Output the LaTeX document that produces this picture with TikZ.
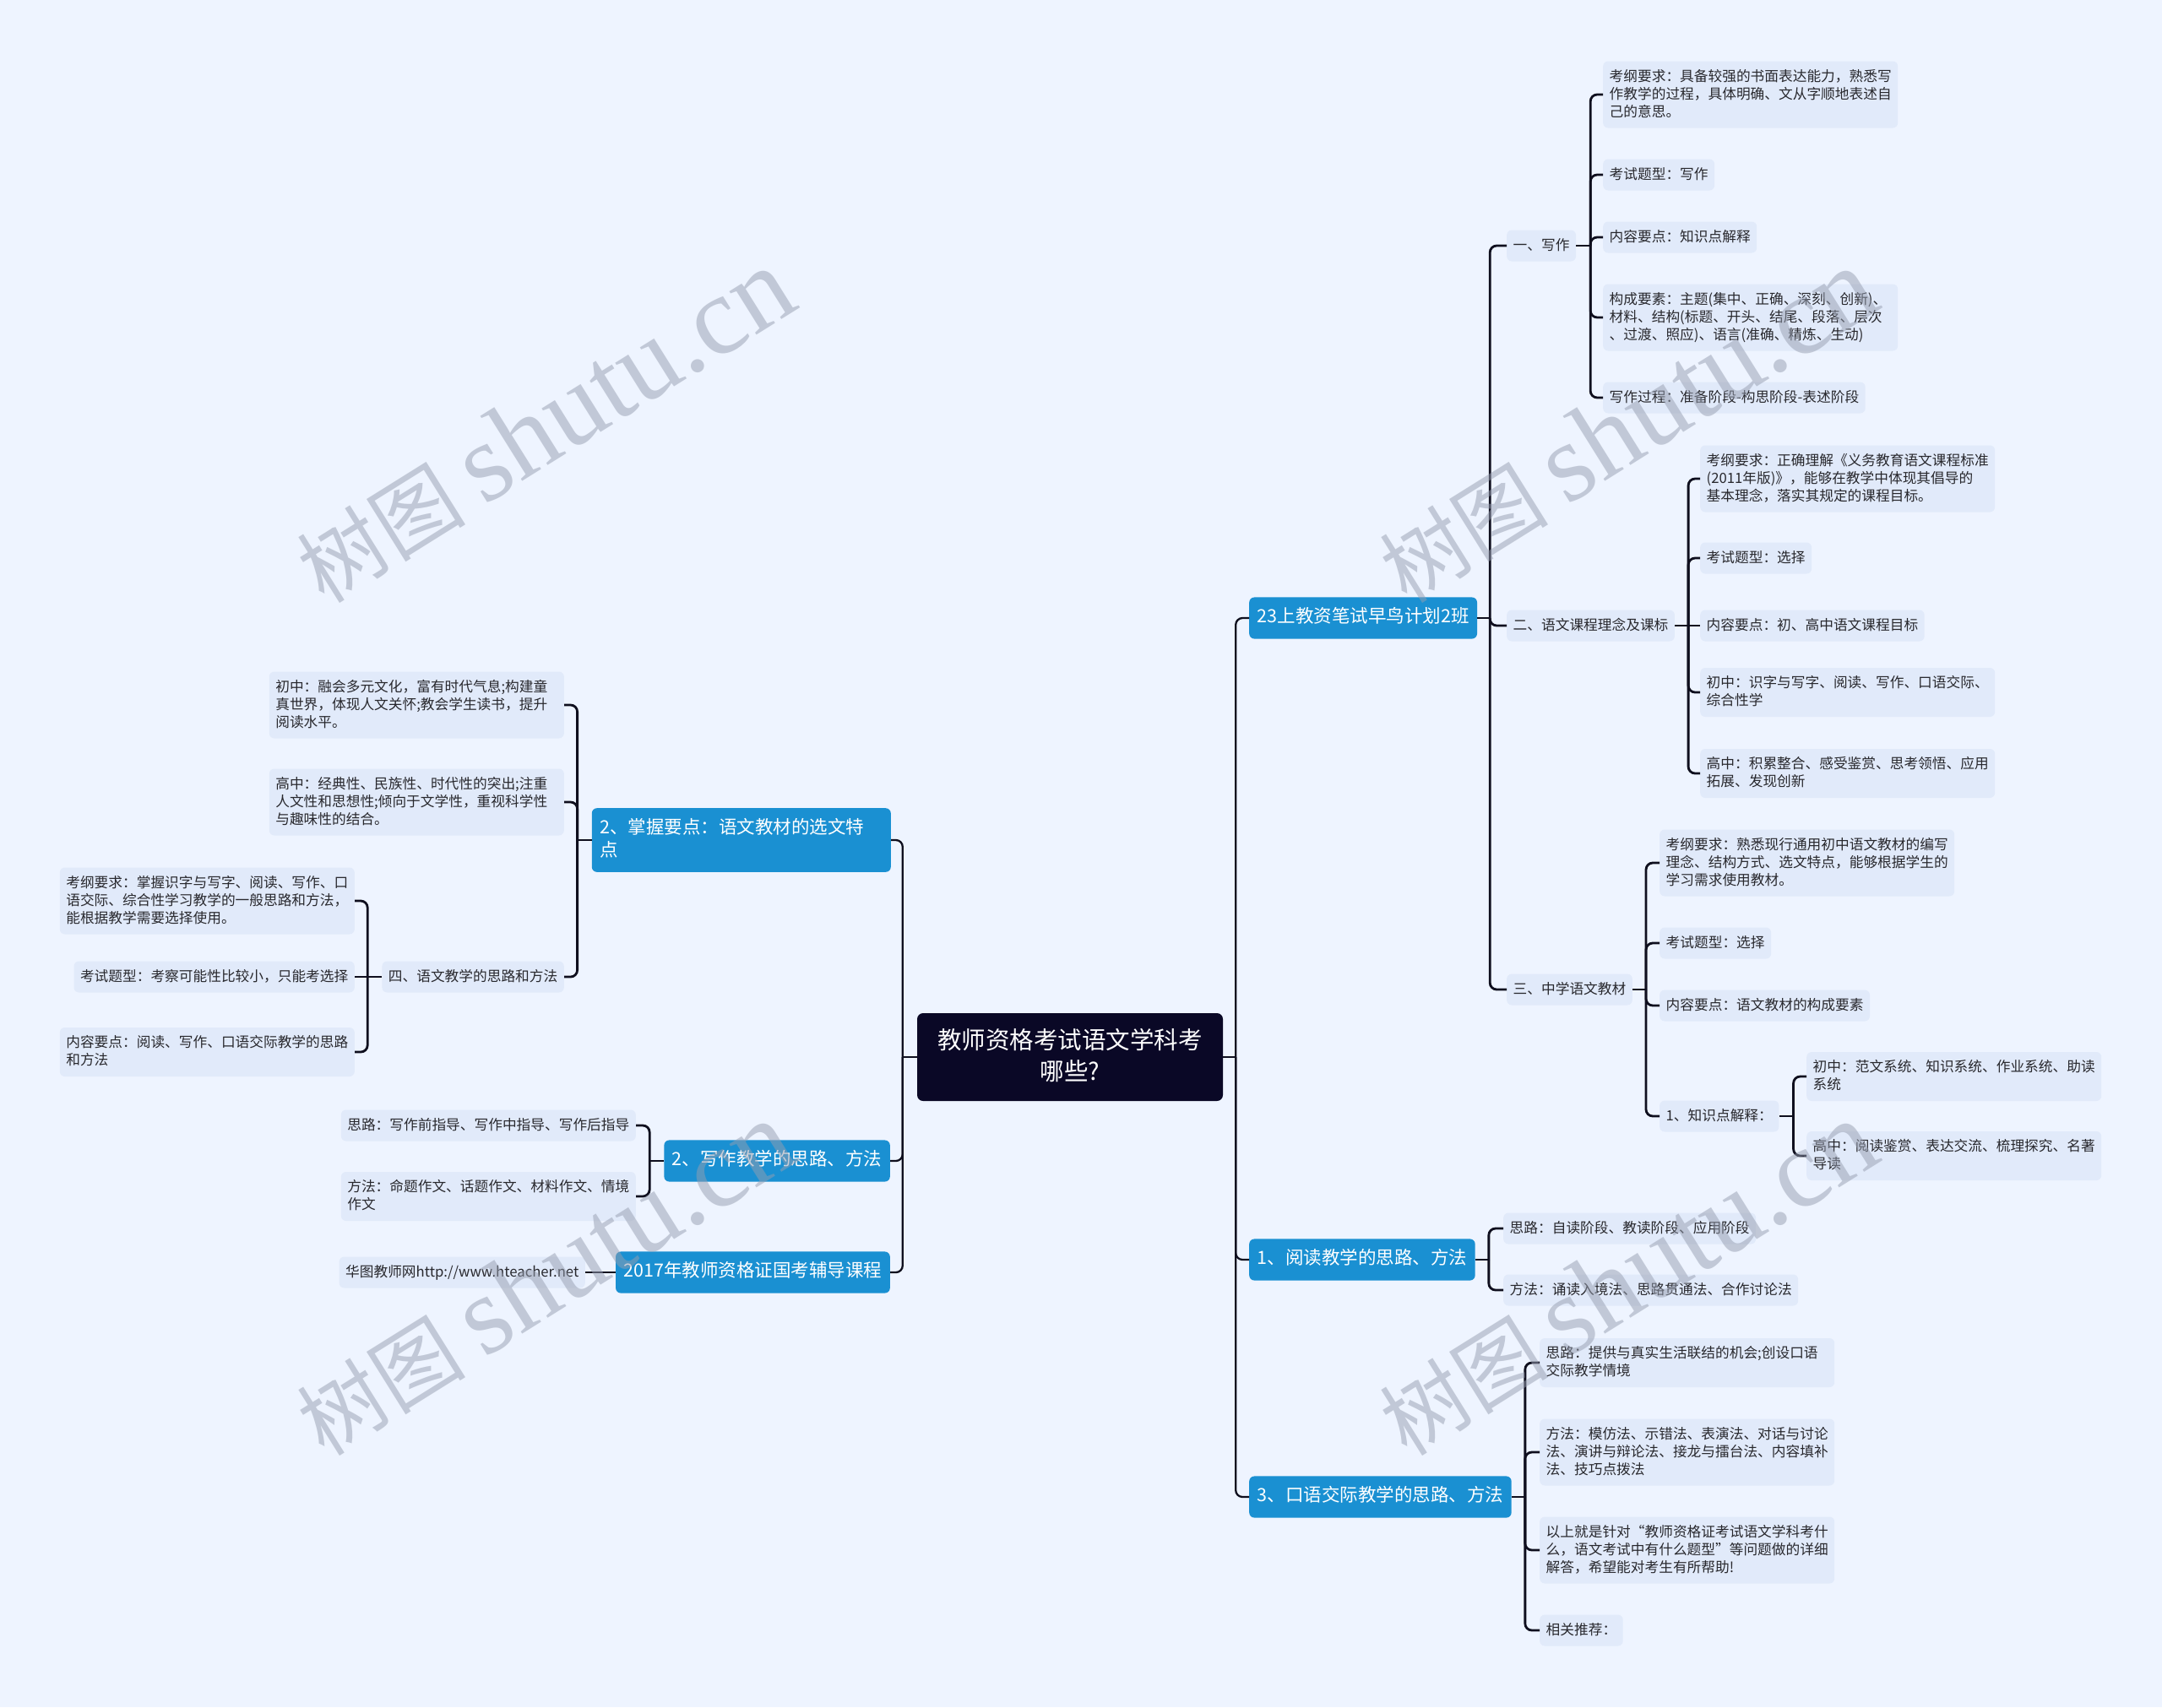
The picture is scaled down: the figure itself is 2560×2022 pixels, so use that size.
\documentclass[tikz,border=0pt]{standalone}
\usepackage{fontspec}
\setmainfont{Noto Sans CJK SC}
\newfontfamily\wmlatin{Liberation Serif}
\usetikzlibrary{calc}
\definecolor{bgc}{RGB}{238,244,255}
\definecolor{leafbg}{RGB}{225,234,250}
\definecolor{bluebg}{RGB}{26,144,210}
\definecolor{rootbg}{RGB}{10,8,38}
\definecolor{linec}{RGB}{15,15,30}
\definecolor{txtc}{RGB}{40,40,45}
\definecolor{wmc}{RGB}{150,158,176}
\newcommand\leaffont{\fontsize{16.7}{21}\selectfont}
\newcommand\bluefont{\fontsize{21.5}{26.5}\selectfont}
\newcommand\rootfont{\fontsize{28.5}{36.7}\selectfont}
\newcommand\wmfont{\fontsize{100}{100}\selectfont}
\newcommand\wmlatinfont{\wmlatin\fontsize{132}{132}\selectfont}
\newcommand\lstr{\rule[-5.5pt]{0pt}{21pt}}
\newcommand\bstr{\rule[-7.3pt]{0pt}{26.5pt}}
\newcommand\rstr{\rule[-9.5pt]{0pt}{36.7pt}}
\tikzset{
  leaf/.style={fill=leafbg, rounded corners=6, inner xsep=7.5, inner ysep=8,
    font=\leaffont, text=txtc, align=left,
    execute at begin node=\lstr, execute at end node=\lstr},
  leafw/.style={leaf, text width=334},
  bluen/.style={fill=bluebg, rounded corners=6, inner xsep=9.5, inner ysep=11.3,
    font=\bluefont, text=white, align=left,
    execute at begin node=\bstr, execute at end node=\bstr},
  rootn/.style={fill=rootbg, rounded corners=7, inner xsep=13, inner ysep=15.3,
    font=\rootfont, text=white, align=center, text width=336,
    execute at begin node=\rstr, execute at end node=\rstr},
  conn/.style={draw=linec, line width=2.8, rounded corners=8},
  conn0/.style={draw=linec, line width=2.3, rounded corners=8},
  wm/.style={rotate=32, text=wmc, opacity=0.5, font=\wmfont, inner sep=0}
}
\begin{document}
\begin{tikzpicture}[x=1pt,y=-1pt]
\fill[bgc] (0,0) rectangle (2560,2022);
\useasboundingbox (0,0) rectangle (2560,2022);

% root
\node[rootn] (root) at (1267,1252) {教师资格考试语文学科考\\哪些?};

% right level 1
\node[bluen, anchor=west] (A) at (1479,732) {23上教资笔试早鸟计划2班};
\node[bluen, anchor=west] (B) at (1479,1492) {1、阅读教学的思路、方法};
\node[bluen, anchor=west] (C) at (1479,1773) {3、口语交际教学的思路、方法};

% A children
\node[leaf, anchor=west] (A1) at (1784,291) {一、写作};
\node[leaf, anchor=west] (A2) at (1784,741) {二、语文课程理念及课标};
\node[leaf, anchor=west] (A3) at (1784,1172) {三、中学语文教材};

\node[leafw, anchor=west] (A1a) at (1898,112) {考纲要求：具备较强的书面表达能力，熟悉写\\作教学的过程，具体明确、文从字顺地表述自\\己的意思。};
\node[leaf, anchor=west] (A1b) at (1898,207) {考试题型：写作};
\node[leaf, anchor=west] (A1c) at (1898,281) {内容要点：知识点解释};
\node[leafw, anchor=west] (A1d) at (1898,376) {构成要素：主题(集中、正确、深刻、创新)、\\材料、结构(标题、开头、结尾、段落、层次\\、过渡、照应)、语言(准确、精炼、生动)};
\node[leaf, anchor=west] (A1e) at (1898,471) {写作过程：准备阶段-构思阶段-表述阶段};

\node[leafw, anchor=west] (A2a) at (2013,567) {考纲要求：正确理解《义务教育语文课程标准\\(2011年版)》，能够在教学中体现其倡导的\\基本理念，落实其规定的课程目标。};
\node[leaf, anchor=west] (A2b) at (2013,661) {考试题型：选择};
\node[leaf, anchor=west] (A2c) at (2013,741) {内容要点：初、高中语文课程目标};
\node[leafw, anchor=west] (A2d) at (2013,820) {初中：识字与写字、阅读、写作、口语交际、\\综合性学};
\node[leafw, anchor=west] (A2e) at (2013,916) {高中：积累整合、感受鉴赏、思考领悟、应用\\拓展、发现创新};

\node[leafw, anchor=west] (A3a) at (1965,1022) {考纲要求：熟悉现行通用初中语文教材的编写\\理念、结构方式、选文特点，能够根据学生的\\学习需求使用教材。};
\node[leaf, anchor=west] (A3b) at (1965,1117) {考试题型：选择};
\node[leaf, anchor=west] (A3c) at (1965,1191) {内容要点：语文教材的构成要素};
\node[leaf, anchor=west] (A3d) at (1965,1322) {1、知识点解释：};
\node[leafw, anchor=west] (A3d1) at (2139,1275) {初中：范文系统、知识系统、作业系统、助读\\系统};
\node[leafw, anchor=west] (A3d2) at (2139,1369) {高中：阅读鉴赏、表达交流、梳理探究、名著\\导读};

% B children
\node[leaf, anchor=west] (B1) at (1780,1455) {思路：自读阶段、教读阶段、应用阶段};
\node[leaf, anchor=west] (B2) at (1780,1528) {方法：诵读入境法、思路贯通法、合作讨论法};

% C children
\node[leafw, anchor=west] (C1) at (1823,1614) {思路：提供与真实生活联结的机会;创设口语\\交际教学情境};
\node[leafw, anchor=west] (C2) at (1823,1720) {方法：模仿法、示错法、表演法、对话与讨论\\法、演讲与辩论法、接龙与擂台法、内容填补\\法、技巧点拨法};
\node[leafw, anchor=west] (C3) at (1823,1836) {以上就是针对“教师资格证考试语文学科考什\\么，语文考试中有什么题型”等问题做的详细\\解答，希望能对考生有所帮助!};
\node[leaf, anchor=west] (C4) at (1823,1931) {相关推荐：};

% left level 1
\node[bluen, text width=335, anchor=east] (L1) at (1055,995) {2、掌握要点：语文教材的选文特\\点};
\node[bluen, anchor=east] (L2) at (1054,1375) {2、写作教学的思路、方法};
\node[bluen, anchor=east] (L3) at (1054,1507) {2017年教师资格证国考辅导课程};

\node[leafw, anchor=east] (L1a) at (668,835) {初中：融会多元文化，富有时代气息;构建童\\真世界，体现人文关怀;教会学生读书，提升\\阅读水平。};
\node[leafw, anchor=east] (L1b) at (668,950) {高中：经典性、民族性、时代性的突出;注重\\人文性和思想性;倾向于文学性，重视科学性\\与趣味性的结合。};
\node[leaf, anchor=east] (L1c) at (668,1157) {四、语文教学的思路和方法};
\node[leafw, anchor=east] (L1c1) at (420,1067) {考纲要求：掌握识字与写字、阅读、写作、口\\语交际、综合性学习教学的一般思路和方法，\\能根据教学需要选择使用。};
\node[leaf, anchor=east] (L1c2) at (420,1157) {考试题型：考察可能性比较小，只能考选择};
\node[leafw, anchor=east] (L1c3) at (420,1246) {内容要点：阅读、写作、口语交际教学的思路\\和方法};

\node[leaf, anchor=east] (L2a) at (753,1333) {思路：写作前指导、写作中指导、写作后指导};
\node[leafw, anchor=east] (L2b) at (753,1417) {方法：命题作文、话题作文、材料作文、情境\\作文};

\node[leaf, anchor=east] (L3a) at (693,1507) {华图教师网http://www.hteacher.net};

% connectors: root
\draw[conn0] (root.east) -- ++(15,0) coordinate (rt);
\foreach \c in {A,B,C} \draw[conn0] (rt) |- (\c.west);
\draw[conn0] (root.west) -- ++(-17,0) coordinate (lt);
\foreach \c in {L1,L2,L3} \draw[conn0] (lt) |- (\c.east);

% A
\draw[conn] (A.east) -- ++(15,0) coordinate (at);
\foreach \c in {A1,A2,A3} \draw[conn] (at) |- (\c.west);
\draw[conn] (A1.east) -- ++(17,0) coordinate (a1t);
\foreach \c in {A1a,A1b,A1c,A1d,A1e} \draw[conn] (a1t) |- (\c.west);
\draw[conn] (A2.east) -- ++(16,0) coordinate (a2t);
\foreach \c in {A2a,A2b,A2d,A2e} \draw[conn] (a2t) |- (\c.west);
\draw[conn] (a2t) -- (A2c.west);
\draw[conn] (A3.east) -- ++(16,0) coordinate (a3t);
\foreach \c in {A3a,A3b,A3c,A3d} \draw[conn] (a3t) |- (\c.west);
\draw[conn] (A3d.east) -- ++(17,0) coordinate (a3dt);
\foreach \c in {A3d1,A3d2} \draw[conn] (a3dt) |- (\c.west);

% B, C
\draw[conn] (B.east) -- ++(16,0) coordinate (bt);
\foreach \c in {B1,B2} \draw[conn] (bt) |- (\c.west);
\draw[conn] (C.east) -- ++(16,0) coordinate (ct);
\foreach \c in {C1,C2,C3,C4} \draw[conn] (ct) |- (\c.west);

% left
\draw[conn] (L1.west) -- ++(-17,0) coordinate (l1t);
\foreach \c in {L1a,L1b,L1c} \draw[conn] (l1t) |- (\c.east);
\draw[conn] (L1c.west) -- ++(-17,0) coordinate (l1ct);
\foreach \c in {L1c1,L1c3} \draw[conn] (l1ct) |- (\c.east);
\draw[conn] (l1ct) -- (L1c2.east);
\draw[conn] (L2.west) -- ++(-17,0) coordinate (l2t);
\foreach \c in {L2a,L2b} \draw[conn] (l2t) |- (\c.east);
\draw[conn] (L3.west) -- (L3a.east);

% watermarks
\node[wm] (wm1) at (645,505) {树图 {\wmlatinfont shutu.cn}};
\node[wm] (wm2) at (1927,505) {树图 {\wmlatinfont shutu.cn}};
\node[wm] (wm3) at (645,1515) {树图 {\wmlatinfont shutu.cn}};
\node[wm] (wm4) at (1927,1515) {树图 {\wmlatinfont shutu.cn}};
\end{tikzpicture}
\end{document}
